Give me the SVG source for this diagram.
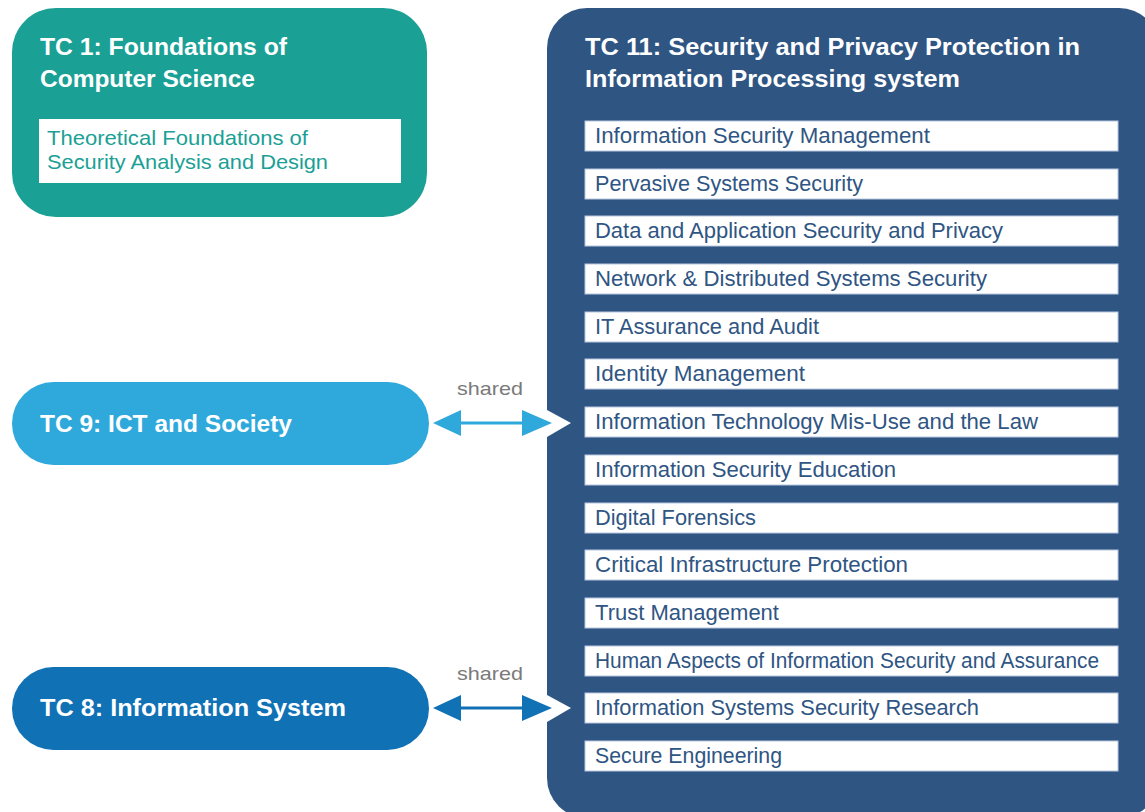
<svg xmlns="http://www.w3.org/2000/svg" width="1145" height="812" viewBox="0 0 1145 812">
<style>
.title{font-family:"Liberation Sans",Arial,sans-serif;font-weight:bold;font-size:24px;fill:#ffffff}
.item{font-family:"Liberation Sans",Arial,sans-serif;font-size:21.5px;fill:#2f5583}
.sub{font-family:"Liberation Sans",Arial,sans-serif;font-size:21px;fill:#1aa095}
.lbl{font-family:"Liberation Sans",Arial,sans-serif;font-size:19px;fill:#7a7a7a}
.itembox{fill:#ffffff;stroke:#b7c8dd;stroke-width:1}
</style>
<rect width="1145" height="812" fill="#ffffff"/>
<g id="tc1">
<rect x="12" y="8" width="415" height="209" rx="44" fill="#1aa095"/>
<text class="title" x="40" y="55" textLength="247" lengthAdjust="spacingAndGlyphs">TC 1: Foundations of</text>
<text class="title" x="40" y="87" textLength="215" lengthAdjust="spacingAndGlyphs">Computer Science</text>
<rect x="39" y="119" width="362" height="64" fill="#ffffff"/>
<text class="sub" x="47" y="145" textLength="261" lengthAdjust="spacingAndGlyphs">Theoretical Foundations of</text>
<text class="sub" x="47" y="169" textLength="281" lengthAdjust="spacingAndGlyphs">Security Analysis and Design</text>
</g>
<g id="tc9">
<rect x="12" y="382" width="417" height="83" rx="41.5" fill="#2fa9dc"/>
<text class="title" x="40" y="432" textLength="252" lengthAdjust="spacingAndGlyphs">TC 9: ICT and Society</text>
</g>
<g id="tc8">
<rect x="12" y="667" width="417" height="83" rx="41.5" fill="#1071b5"/>
<text class="title" x="40" y="716" textLength="306" lengthAdjust="spacingAndGlyphs">TC 8: Information System</text>
</g>
<g id="tc11">
<rect x="547" y="8" width="612" height="810" rx="40" fill="#2f5583"/>
<polygon points="547,410 571,423 547,437" fill="#ffffff"/>
<polygon points="547,695 571,708 547,722" fill="#ffffff"/>
<text class="title" x="585" y="55" textLength="495" lengthAdjust="spacingAndGlyphs">TC 11: Security and Privacy Protection in</text>
<text class="title" x="585" y="87" textLength="375" lengthAdjust="spacingAndGlyphs">Information Processing system</text>
<rect class="itembox" x="585" y="121" width="533" height="30"/>
<rect class="itembox" x="585" y="169" width="533" height="30"/>
<rect class="itembox" x="585" y="216" width="533" height="30"/>
<rect class="itembox" x="585" y="264" width="533" height="30"/>
<rect class="itembox" x="585" y="312" width="533" height="30"/>
<rect class="itembox" x="585" y="359" width="533" height="30"/>
<rect class="itembox" x="585" y="407" width="533" height="30"/>
<rect class="itembox" x="585" y="455" width="533" height="30"/>
<rect class="itembox" x="585" y="503" width="533" height="30"/>
<rect class="itembox" x="585" y="550" width="533" height="30"/>
<rect class="itembox" x="585" y="598" width="533" height="30"/>
<rect class="itembox" x="585" y="646" width="533" height="30"/>
<rect class="itembox" x="585" y="693" width="533" height="30"/>
<rect class="itembox" x="585" y="741" width="533" height="30"/>
<text class="item" x="595" y="143" textLength="335" lengthAdjust="spacingAndGlyphs">Information Security Management</text>
<text class="item" x="595" y="191" textLength="268" lengthAdjust="spacingAndGlyphs">Pervasive Systems Security</text>
<text class="item" x="595" y="238" textLength="408" lengthAdjust="spacingAndGlyphs">Data and Application Security and Privacy</text>
<text class="item" x="595" y="286" textLength="392" lengthAdjust="spacingAndGlyphs">Network &amp; Distributed Systems Security</text>
<text class="item" x="595" y="334" textLength="224" lengthAdjust="spacingAndGlyphs">IT Assurance and Audit</text>
<text class="item" x="595" y="381" textLength="210" lengthAdjust="spacingAndGlyphs">Identity Management</text>
<text class="item" x="595" y="429" textLength="443" lengthAdjust="spacingAndGlyphs">Information Technology Mis-Use and the Law</text>
<text class="item" x="595" y="477" textLength="301" lengthAdjust="spacingAndGlyphs">Information Security Education</text>
<text class="item" x="595" y="525" textLength="161" lengthAdjust="spacingAndGlyphs">Digital Forensics</text>
<text class="item" x="595" y="572" textLength="313" lengthAdjust="spacingAndGlyphs">Critical Infrastructure Protection</text>
<text class="item" x="595" y="620" textLength="184" lengthAdjust="spacingAndGlyphs">Trust Management</text>
<text class="item" x="595" y="668" textLength="504" lengthAdjust="spacingAndGlyphs">Human Aspects of Information Security and Assurance</text>
<text class="item" x="595" y="715" textLength="384" lengthAdjust="spacingAndGlyphs">Information Systems Security Research</text>
<text class="item" x="595" y="763" textLength="187" lengthAdjust="spacingAndGlyphs">Secure Engineering</text>
</g>
<g id="connectors">
<g fill="#2fa9dc" stroke="none">
<polygon points="433,423 461,410 461,436"/>
<rect x="460" y="421.5" width="63" height="3"/>
<polygon points="522,410 552,423 522,436"/>
</g>
<g fill="#1071b5" stroke="none">
<polygon points="433,708 461,695 461,721"/>
<rect x="460" y="706.5" width="63" height="3"/>
<polygon points="522,695 552,708 522,721"/>
</g>
<text class="lbl" x="457" y="395" textLength="66" lengthAdjust="spacingAndGlyphs">shared</text>
<text class="lbl" x="457" y="680" textLength="66" lengthAdjust="spacingAndGlyphs">shared</text>
</g>
</svg>
